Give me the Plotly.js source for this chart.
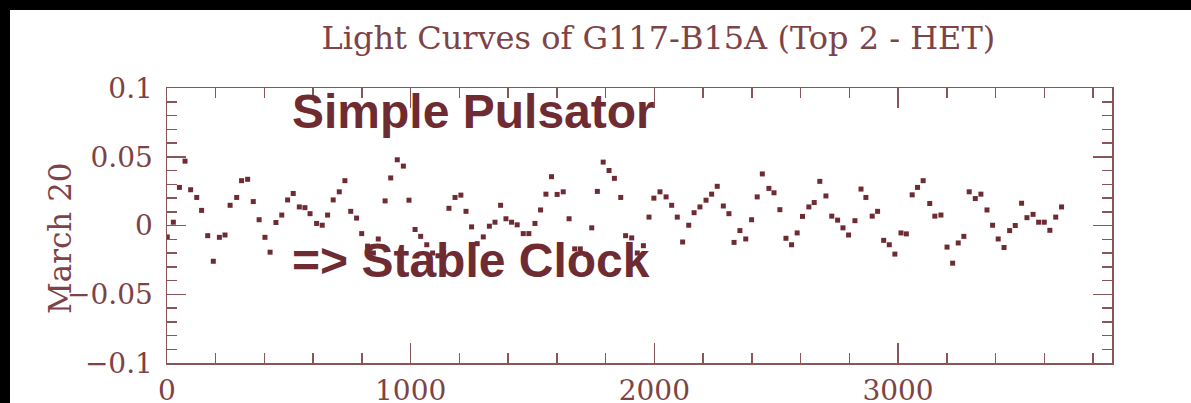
<!DOCTYPE html>
<html>
<head>
<meta charset="utf-8">
<script src="https://cdn.plot.ly/plotly-3.0.1.min.js"></script>
<style>
  html, body { margin: 0; padding: 0; background: #000; width: 1191px; height: 403px; overflow: hidden; }
  #chart { position: absolute; left: 10px; top: 10px; width: 1181px; height: 393px; background: #fff; }
</style>
</head>
<body>
<div id="chart"></div>
<script>
// Time (s) and relative intensity, March 20
const timeSec = [1, 26, 51, 74, 97, 122, 142, 167, 190, 215, 238, 259, 286, 306, 331, 354, 378, 402, 423, 447,
  471, 495, 518, 543, 566, 587, 614, 637, 659, 682, 707, 730, 754, 778, 799, 823, 847, 867, 895, 918,
  945, 970, 993, 1018, 1041, 1066, 1090, 1112, 1135, 1157, 1182, 1206, 1227, 1250, 1273, 1298, 1323, 1346, 1369, 1391,
  1414, 1437, 1462, 1485, 1510, 1533, 1555, 1578, 1601, 1626, 1650, 1673, 1696, 1719, 1743, 1766, 1790, 1814, 1836, 1862,
  1882, 1907, 1930, 1955, 1978, 1998, 2023, 2048, 2071, 2094, 2116, 2141, 2163, 2187, 2212, 2235, 2258, 2283, 2306, 2327,
  2351, 2375, 2399, 2422, 2443, 2470, 2491, 2515, 2540, 2563, 2586, 2608, 2634, 2656, 2679, 2704, 2728, 2752, 2774, 2797,
  2823, 2848, 2868, 2894, 2916, 2941, 2964, 2987, 3012, 3034, 3058, 3080, 3103, 3130, 3151, 3176, 3201, 3224, 3247, 3270,
  3292, 3317, 3340, 3365, 3388, 3411, 3435, 3458, 3481, 3507, 3529, 3554, 3577, 3600, 3623, 3647, 3671];
const march20 = [-0.0083, 0.0024, 0.0277, 0.0468, 0.026, 0.0204, 0.011, -0.0074, -0.026, -0.0086, -0.0069, 0.0147, 0.0204, 0.0326, 0.0336, 0.0174, 0.0042, -0.0086, -0.0194, 0.0022,
  0.0076, 0.0186, 0.0233, 0.0135, 0.013, 0.0086, 0.0015, 0.0002, 0.0076, 0.0186, 0.0245, 0.0326, 0.0103, 0.0054, -0.0059, -0.015, -0.02, -0.0098, 0.0179, 0.0346,
  0.0478, 0.0432, 0.0184, -0.0029, -0.0079, -0.014, -0.02, -0.022, -0.02, 0.0125, 0.0204, 0.0221, 0.0103, -0.001, -0.0132, -0.0083, -0.0005, 0.0024, 0.0147, 0.0049,
  0.0024, 0.0005, -0.0059, -0.0059, 0.0015, 0.0113, 0.0228, 0.0355, 0.0226, 0.0245, 0.0049, -0.017, -0.017, -0.021, -0.0017, 0.0248, 0.0461, 0.04, 0.0343, 0.0204,
  -0.0074, -0.009, -0.02, -0.0147, 0.0061, 0.0199, 0.0245, 0.0208, 0.0147, 0.0061, -0.012, 0.0002, 0.0093, 0.0135, 0.0184, 0.0228, 0.0285, 0.0142, 0.0086, -0.0123,
  -0.0037, -0.0098, 0.0042, 0.0208, 0.0375, 0.027, 0.0238, 0.0115, -0.0093, -0.014, -0.0054, 0.0066, 0.0135, 0.0167, 0.0321, 0.0215, 0.0068, 0.0039, -0.0017, -0.0069,
  0.0035, 0.0265, 0.0204, 0.0068, 0.0103, -0.0108, -0.014, -0.0208, -0.0054, -0.0061, 0.0223, 0.0277, 0.0326, 0.016, 0.0068, 0.0076, -0.0157, -0.0274, -0.0127, -0.0079,
  0.0245, 0.0196, 0.0228, 0.0113, 0.0002, -0.0098, -0.016, -0.0037, 0, 0.0162, 0.0057, 0.0081, 0.0024, 0.0024, -0.0035, 0.0061, 0.0135];

const xTickVals = [0, 1000, 2000, 3000];
const xTickText = ['0', '1000', '2000', '3000'];
const yTickVals = [-0.1, -0.05, 0, 0.05, 0.1];
const yTickText = ['\u22120.1', '\u22120.05', '0', '0.05', '0.1'];

const chartTitle = 'Light Curves of G117-B15A (Top 2 - HET)';
const yLabel = 'March 20';
const note1 = 'Simple Pulsator';
const note2 = '=> Stable Clock';

const maroon = '#6e2c32';
const textCol = '#7e4347';
const axisCol = '#8a5558';
const serif = 'DejaVu Serif, serif';

const trace = {
  x: timeSec, y: march20, type: 'scatter', mode: 'markers',
  marker: { symbol: 'square', size: 5, color: maroon, line: { width: 0 } },
  hoverinfo: 'x+y', showlegend: false
};

const axisCommon = {
  showgrid: false, zeroline: false, showline: true, linecolor: axisCol, linewidth: 1.5,
  mirror: 'allticks', ticks: 'inside', tickcolor: axisCol, tickwidth: 1.5,
  tickfont: { family: serif, size: 28, color: textCol }
};

const layout = {
  width: 1181, height: 393,
  margin: { l: 157, r: 79, t: 78, b: 40 },
  paper_bgcolor: '#ffffff', plot_bgcolor: '#ffffff',
  title: { text: chartTitle, font: { family: serif, size: 32, color: textCol },
           x: 0.52, xref: 'paper', xanchor: 'center', y: 0.93, yref: 'container', yanchor: 'middle' },
  xaxis: Object.assign({}, axisCommon, {
    range: [0, 3878], tickvals: xTickVals, ticktext: xTickText, ticklen: 20, ticklabelstandoff: 2,
    minor: { dtick: 200, tick0: 0, ticks: 'inside', ticklen: 10, tickcolor: axisCol, tickwidth: 1.5 }
  }),
  yaxis: Object.assign({}, axisCommon, {
    range: [-0.1, 0.1], tickvals: yTickVals, ticktext: yTickText, ticklen: 19, ticklabelstandoff: 7,
    minor: { dtick: 0.01, tick0: 0, ticks: 'inside', ticklen: 10, tickcolor: axisCol, tickwidth: 1.5 }
  }),
  annotations: [
    { text: yLabel, textangle: -90, xref: 'paper', yref: 'paper', x: -0.113, y: 0.455,
      xanchor: 'center', yanchor: 'middle', showarrow: false,
      font: { family: serif, size: 31, color: textCol } },
    { text: '<b>' + note1 + '</b>', xref: 'paper', yref: 'paper', x: 0.130, y: 0.915,
      xanchor: 'left', yanchor: 'middle', showarrow: false,
      font: { family: 'Liberation Sans, Arial, sans-serif', size: 48, color: maroon } },
    { text: '<b>' + note2.replace('>', '&gt;') + '</b>', xref: 'paper', yref: 'paper', x: 0.130, y: 0.3745,
      xanchor: 'left', yanchor: 'middle', showarrow: false,
      font: { family: 'Liberation Sans, Arial, sans-serif', size: 48, color: maroon } }
  ]
};

Plotly.newPlot('chart', [trace], layout, { displayModeBar: false, staticPlot: true });
</script>
</body>
</html>
